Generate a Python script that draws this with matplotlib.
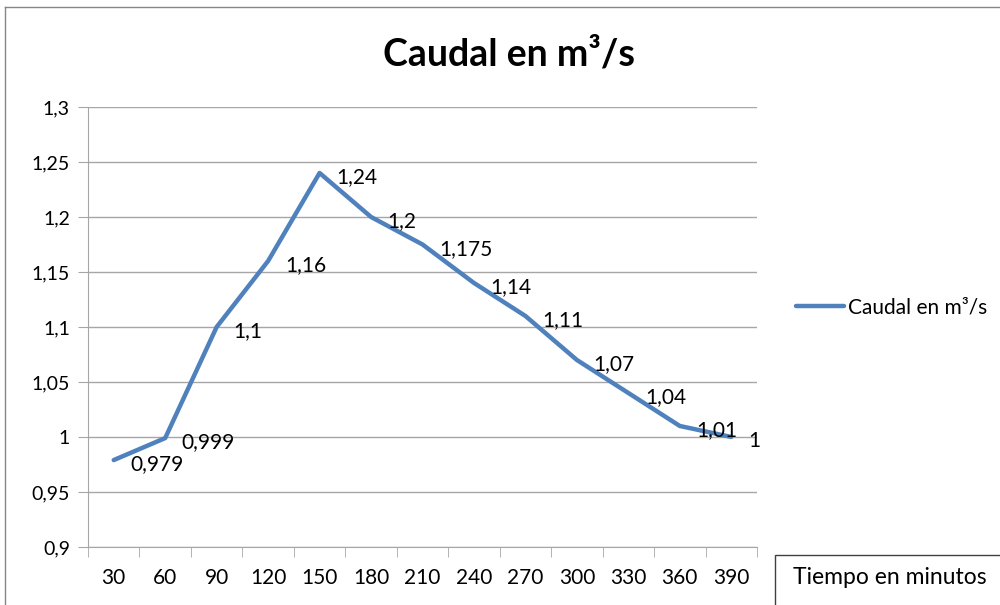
import matplotlib
matplotlib.use("Agg")
from matplotlib import pyplot as plt
from matplotlib.lines import Line2D
from matplotlib.patches import Rectangle

minutos = [30, 60, 90, 120, 150, 180, 210, 240, 270, 300, 330, 360, 390]
caudal = [0.979, 0.999, 1.1, 1.16, 1.24, 1.2, 1.175, 1.14, 1.11, 1.07, 1.04, 1.01, 1.0]
etiquetas = ["0,979", "0,999", "1,1", "1,16", "1,24", "1,2", "1,175", "1,14", "1,11",
             "1,07", "1,04", "1,01", "1"]
y_ticks = [0.9, 0.95, 1.0, 1.05, 1.1, 1.15, 1.2, 1.25, 1.3]
y_labels = ["0,9", "0,95", "1", "1,05", "1,1", "1,15", "1,2", "1,25", "1,3"]

plt.rcParams['font.family'] = ['Lato', 'DejaVu Sans']
azul = '#4f81bd'
gris = '#a6a6a6'

fig = plt.figure(figsize=(10, 6.05), dpi=100)
ax = fig.add_axes([0.088, 0.0959, 0.669, 0.7273])

x = list(range(len(minutos)))
ax.plot(x, caudal, color=azul, lw=3.2, solid_capstyle='round', label='Caudal en m³/s')

for xi, yi, t in zip(x, caudal, etiquetas):
    ax.annotate(t, (xi, yi), xytext=(12, -3), textcoords='offset points',
                ha='left', va='center', fontsize=15)

ax.set_xlim(-0.5, len(minutos) - 0.5)
ax.set_ylim(0.9, 1.3)
ax.set_yticks(y_ticks, y_labels)
ax.set_xticks(x, [str(m) for m in minutos])
ax.set_xticks([i - 0.5 for i in range(len(minutos) + 1)], minor=True)
ax.tick_params(axis='x', which='major', length=0, pad=15, labelsize=15)
ax.tick_params(axis='x', which='minor', length=7, color=gris)
ax.tick_params(axis='y', length=7, color=gris, labelsize=14, pad=6)
ax.grid(True, axis='y', color=gris, lw=1)
for s in ['top', 'right']:
    ax.spines[s].set_visible(False)
for s in ['left', 'bottom']:
    ax.spines[s].set_color(gris)

fig.text(0.509, 0.91, 'Caudal en m³/s', ha='center', va='center',
         fontsize=27, fontweight='bold')

ax.legend(loc='center left', bbox_to_anchor=(1.03, 0.545), frameon=False,
          fontsize=15, handlelength=2.3, handletextpad=0.2)

# borde del grafico
fig.add_artist(Line2D([0.005, 1.0], [1 - 7 / 605, 1 - 7 / 605], color='#868686', lw=1))
fig.add_artist(Line2D([0.005, 0.005], [0, 1 - 7 / 605], color='#868686', lw=1))

# caja del titulo del eje
fig.add_artist(Rectangle((0.775, -0.05), 0.3, 1 - 555 / 605 + 0.05,
                         transform=fig.transFigure, fill=False, ec='#404040', lw=1))
fig.text(0.793, 1 - 578 / 605, 'Tiempo en minutos', ha='left', va='center', fontsize=16.5)

plt.savefig('out.png', dpi=100)
